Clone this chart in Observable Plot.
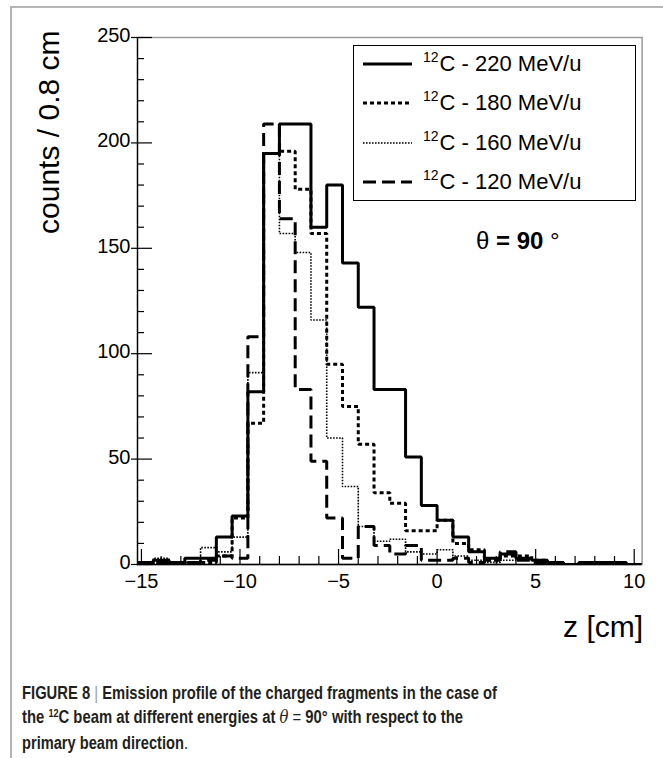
<!DOCTYPE html>
<html><head><meta charset="utf-8">
<script src="https://cdn.jsdelivr.net/npm/d3@7"></script>
<script src="https://cdn.jsdelivr.net/npm/@observablehq/plot@0.6"></script>
<style>
body{margin:0;background:#fff;font-family:"Liberation Sans",Arial,Helvetica,sans-serif;}
#wrap{position:relative;width:663px;height:758px;overflow:hidden;background:#fff;}
#chart{position:absolute;left:0;top:0;z-index:1;}
#border{position:absolute;left:0;top:0;z-index:20;pointer-events:none;}
#legend{position:absolute;left:353px;top:45px;width:281px;height:154px;border:1px solid #000;background:#fff;z-index:2;}
.lg{position:absolute;left:0;height:28px;width:281px;}
.lg svg{position:absolute;left:9px;top:0;}
.lg .t{position:absolute;left:69px;top:0;font-size:22px;line-height:28px;white-space:nowrap;color:#000;}
.lg sup{font-size:14px;vertical-align:0;position:relative;top:-9px;margin-right:1px;}
#theta{position:absolute;left:476px;top:226px;font-size:24px;line-height:30px;white-space:nowrap;color:#000;z-index:2;}
#caption{position:absolute;left:22px;top:681px;font-size:18px;line-height:24px;color:#231f20;font-weight:bold;z-index:2;}
#caption .ln{white-space:nowrap;transform-origin:0 0;display:block;width:max-content;}
#caption .bar{font-weight:normal;color:#9a9a9a;}
#caption sup{font-size:11px;vertical-align:0;position:relative;top:-6px;}
</style></head><body>
<div id="wrap">
  <div id="chart"></div>
  <div id="legend"></div>
  <div id="theta">θ<b> = 90</b> °</div>
  <div id="caption">
    <span class="ln" data-w="475">FIGURE 8 <span class="bar">|</span> Emission profile of the charged fragments in the case of</span>
    <span class="ln" data-w="441">the <sup>12</sup>C beam at different energies at <i style="font-family:'DejaVu Serif',serif;font-weight:normal">θ</i> <span style="font-weight:normal">=</span> 90° with respect to the</span>
    <span class="ln" data-w="166">primary beam direction<span style="font-weight:normal">.</span></span>
  </div>
  <svg id="border" width="663" height="758"><path d="M11,758V7H663" fill="none" stroke="#b4b4b4" stroke-width="2"/></svg>
</div>
<script>
// ---- data ----
const binLeft = [-15.2,-14.4,-13.6,-12.8,-12.0,-11.2,-10.4,-9.6,-8.8,-8.0,-7.2,-6.4,-5.6,-4.8,-4.0,-3.2,
                 -2.4,-1.6,-0.8,0,0.8,1.6,2.4,3.2,4.0,4.8,5.6,6.4,7.2,8.0,8.8,9.6];
const binEnd = 10.4;
const seriesNames = ["220 MeV/u","180 MeV/u","160 MeV/u","120 MeV/u"];
const c220 = [1,2,1,3, 3,13,23,82, 195,209,209,160, 180,143,122,83, 83,51,28,21, 13,6,3,5, 3,2,1,0, 1,1,1,0];
const c180 = [0,1,0,1, 1,4,22,67, 195,196,178,157, 95,75,57,34, 29,16,16,21, 10,7,2,4, 4,2,1,0, 1,0,1,0];
const c160 = [1,3,1,1, 8,6,13,91, 195,157,148,116, 60,37,18,11, 12,6,5,7, 4,2,1,2, 3,2,1,0, 1,1,0,0];
const c120 = [1,1,0,1, 2,4,3,108, 209,164,83,49, 22,3,18,9, 5,9,2,2, 3,1,2,6, 2,1,0,0, 0,0,0,0];
const xTickLabels = [-15,-10,-5,0,5,10];
const yTickLabels = [0,50,100,150,200,250];
const xDomain = [-15.2, 10.4];
const yDomain = [0, 250];

// ---- styles ----
const styles = {
  "220 MeV/u": {strokeWidth: 3, strokeDasharray: null},
  "180 MeV/u": {strokeWidth: 3, strokeDasharray: "4,3"},
  "160 MeV/u": {strokeWidth: 1.6, strokeDasharray: "1.6,1.4"},
  "120 MeV/u": {strokeWidth: 3, strokeDasharray: "13,6"}
};
const counts = {"220 MeV/u": c220, "180 MeV/u": c180, "160 MeV/u": c160, "120 MeV/u": c120};

function rowsFor(name) {
  const vals = counts[name];
  const r = binLeft.map((z, i) => ({z, v: vals[i], s: name}));
  r.push({z: binEnd, v: vals[vals.length - 1], s: name});
  return r;
}

const W = 663, H = 660, mL = 137, mR = 21.4, mT = 37, mB = 96;
const ux = (xDomain[1] - xDomain[0]) / (W - mL - mR);   // data units per px
const uy = (yDomain[1] - yDomain[0]) / (H - mT - mB);
const xMinor = d3.range(-15, 10.001, 1).filter(d => !xTickLabels.includes(d));
const yMinor = d3.range(0, 250.001, 10).filter(d => !yTickLabels.includes(d));

const drawOrder = ["160 MeV/u", "120 MeV/u", "180 MeV/u", "220 MeV/u"];

const plot = Plot.plot({
  width: W, height: H,
  marginLeft: mL, marginRight: mR, marginTop: mT, marginBottom: mB,
  x: {domain: xDomain, axis: null},
  y: {domain: yDomain, axis: null},
  style: {fontFamily: "'Liberation Sans', Arial, sans-serif", color: "#000", background: "transparent", overflow: "visible"},
  marks: [
    Plot.frame({stroke: "#9a9a9a", strokeWidth: 1.5}),
    ...drawOrder.map(name => Plot.line(rowsFor(name), {
      x: "z", y: "v", curve: "step-after", stroke: "#000",
      strokeWidth: styles[name].strokeWidth, strokeDasharray: styles[name].strokeDasharray,
      strokeLinecap: "butt", strokeLinejoin: "miter", clip: true
    })),
    // axis lines
    Plot.ruleY([0], {stroke: "#000", strokeWidth: 1.3}),
    Plot.ruleX([xDomain[0]], {stroke: "#000", strokeWidth: 1.3}),
    // x ticks (inside)
    Plot.ruleX(xTickLabels, {x: d => d, y1: 0, y2: 15 * uy, stroke: "#000", strokeWidth: 1.2}),
    Plot.ruleX(xMinor, {x: d => d, y1: 0, y2: 8 * uy, stroke: "#000", strokeWidth: 1.2}),
    // y ticks
    Plot.ruleY(yTickLabels, {y: d => d, x1: xDomain[0] - 6 * ux, x2: xDomain[0] + 15 * ux, stroke: "#000", strokeWidth: 1.2}),
    Plot.ruleY(yMinor, {y: d => d, x1: xDomain[0], x2: xDomain[0] + 7 * ux, stroke: "#000", strokeWidth: 1.2}),
    // tick labels
    Plot.axisX(xTickLabels, {tickSize: 0, tickPadding: 9, fontSize: 20, label: null, tickFormat: d => (d < 0 ? "\u2212" + Math.abs(d) : String(d))}),
    Plot.axisY(yTickLabels, {tickSize: 0, tickPadding: 7, fontSize: 20, label: null, dy: -2}),
    // axis titles
    Plot.text(["z [cm]"], {frameAnchor: "bottom-right", dx: 1, dy: 72, textAnchor: "end", fontSize: 30, text: d => d}),
    Plot.text(["counts / 0.8 cm"], {frameAnchor: "top-left", rotate: -90, textAnchor: "end", dx: -100, dy: -7, fontSize: 30, text: d => d})
  ]
});
document.getElementById("chart").appendChild(plot);

// ---- legend ----
const legend = document.getElementById("legend");
const legendTops = [4, 43, 83, 122];
const legendOrder = ["220 MeV/u", "180 MeV/u", "160 MeV/u", "120 MeV/u"];
legendOrder.forEach((name, i) => {
  const row = document.createElement("div");
  row.className = "lg";
  row.style.top = legendTops[i] + "px";
  const st = styles[name];
  row.innerHTML = `<svg width="50" height="28"><line x1="0" x2="49" y1="14" y2="14" stroke="#000" stroke-width="${st.strokeWidth}" ${st.strokeDasharray ? `stroke-dasharray="${st.strokeDasharray}"` : ""}/></svg>` +
    `<span class="t"><sup>12</sup>C - ${name.replace(" MeV/u", "")} MeV/u</span>`;
  legend.appendChild(row);
});

// ---- caption condensation ----
document.querySelectorAll("#caption .ln").forEach(el => {
  const target = +el.dataset.w;
  const w = el.getBoundingClientRect().width;
  if (w > 0) el.style.transform = `scaleX(${target / w})`;
});
</script>
</body></html>
